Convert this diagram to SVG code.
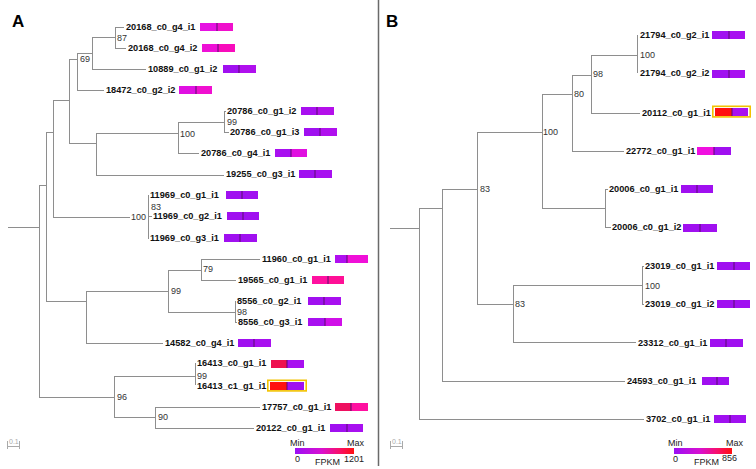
<svg xmlns="http://www.w3.org/2000/svg" width="756" height="469" viewBox="0 0 756 469">
<defs>
<linearGradient id="fpkm" x1="0" y1="0" x2="1" y2="0">
<stop offset="0" stop-color="#9a10f5"/>
<stop offset="0.45" stop-color="#d810d0"/>
<stop offset="0.75" stop-color="#f8106a"/>
<stop offset="1" stop-color="#ff1010"/>
</linearGradient>
<style>
.ln{stroke:#8e8e8e;stroke-width:1;fill:none}
.lf{font-family:"Liberation Sans",Arial,sans-serif;font-weight:bold;font-size:9.2px;fill:#111}
.bs{font-family:"Liberation Sans",Arial,sans-serif;font-size:9px;fill:#333}
.lg{font-family:"Liberation Sans",Arial,sans-serif;font-size:9px;fill:#222}
.pl{font-family:"Liberation Sans",Arial,sans-serif;font-weight:bold;font-size:17px;fill:#000}
.dv{stroke:#5a0a70;stroke-width:1}
.hl{fill:none;stroke:#f2c200;stroke-width:1.6}
.sc{stroke:#aaa;stroke-width:1;fill:none}
.st{font-family:"Liberation Sans",Arial,sans-serif;font-size:7px;fill:#aaa}
.p{fill:#a010f0}
.p2{fill:#b010ee}
</style>
</defs>
<rect width="756" height="469" fill="#fff"/>
<line x1="378.5" y1="0" x2="378.5" y2="466" stroke="#6a6a6a" stroke-width="1.5"/>
<text class="pl" x="12" y="27">A</text>
<text class="pl" x="386" y="27">B</text>

<g id="connectors">
<path class="ln" d="M8,227.5H39.5 M39.5,185V397 M39,185.5H46.5 M46.5,132V301 M46,132.5H53.5 M53.5,100V217 M53,100.5H69.5 M69.5,59V143 M69,59.5H77.5 M77.5,53V90 M77,53.5H92.5 M92.5,37V69 M92,37.5H115.5 M115.5,27V48 M115,27.5H124 M115,48.5H126 M92,69.5H146 M77,90.5H104 M69,143.5H96.5 M96.5,133V175 M96,133.5H178.5 M178.5,122V153 M178,122.5H224.5 M224.5,111V132 M224,111.5H226 M224,132.5H229 M178,153.5H199 M96,175.5H224 M53,217.5H130 M148.5,195V238 M148,195.5H149 M148,216.5H152 M148,238.5H149 M46,301.5H86.5 M86.5,291V343 M86,291.5H168.5 M168.5,270V312 M168,270.5H201.5 M201.5,259V280 M201,259.5H260 M201,280.5H236 M168,312.5H235.5 M235.5,301V322 M235,301.5H236 M235,322.5H237 M86,343.5H163 M39,397.5H114.5 M114.5,376V417 M114,376.5H195.5 M195.5,363V385 M114,417.5H155.5 M155.5,407V428 M155,407.5H260 M155,428.5H254"/>
<path class="ln" d="M390,228.5H419.5 M419.5,208V419 M419,208.5H442.5 M442.5,189V381 M419,419.5H644 M442,189.5H477.5 M477.5,132V304 M442,381.5H625 M477,132.5H542.5 M542.5,94V208 M477,304.5H513.5 M513.5,285V342 M542,94.5H572.5 M572.5,75V151 M542,208.5H605.5 M605.5,189V227 M605,189.5H608 M605,227.5H611 M572,75.5H591.5 M591.5,55V113 M572,151.5H624 M591,55.5H637.5 M637.5,35V73 M591,113.5H640 M513,285.5H642.5 M642.5,266V304 M642,266.5H644 M642,304.5H644 M513,342.5H636"/>
</g>

<g id="bootstrap-A">
<text class="bs" x="117" y="40.5">87</text>
<text class="bs" x="80" y="61.5">69</text>
<text class="bs" x="227" y="124.5">99</text>
<text class="bs" x="180" y="136.5">100</text>
<text class="bs" x="151" y="209.5">83</text>
<text class="bs" x="131" y="219.5">100</text>
<text class="bs" x="203" y="271.5">79</text>
<text class="bs" x="171" y="293.5">99</text>
<text class="bs" x="237" y="314.5">98</text>
<text class="bs" x="197" y="379">99</text>
<text class="bs" x="117" y="399.5">96</text>
<text class="bs" x="158" y="419.5">90</text>
</g>
<g id="bootstrap-B">
<text class="bs" x="640" y="57.5">100</text>
<text class="bs" x="593" y="76.5">98</text>
<text class="bs" x="574" y="96.5">80</text>
<text class="bs" x="543" y="134.5">100</text>
<text class="bs" x="480" y="191.5">83</text>
<text class="bs" x="515" y="306.5">83</text>
<text class="bs" x="645" y="288.5">100</text>
</g>

<g id="leaf-20168_c0_g4_i1"><text class="lf" x="126" y="30.4">20168_c0_g4_i1</text><rect x="200" y="23" width="17" height="8" fill="#e612e2"/><rect x="217" y="23" width="16" height="8" fill="#f010cc"/><line class="dv" x1="217" y1="23" x2="217" y2="31"/></g>
<g id="leaf-20168_c0_g4_i2"><text class="lf" x="128" y="51.4">20168_c0_g4_i2</text><rect x="202" y="44" width="16" height="8" fill="#ee10d6"/><rect x="218" y="44" width="17" height="8" fill="#f80cbc"/><line class="dv" x1="218" y1="44" x2="218" y2="52"/></g>
<g id="leaf-10889_c0_g1_i2"><text class="lf" x="148" y="72.4">10889_c0_g1_i2</text><rect x="223" y="65" width="16" height="8" class="p"/><rect x="239" y="65" width="17" height="8" class="p2"/><line class="dv" x1="239" y1="65" x2="239" y2="73"/></g>
<g id="leaf-18472_c0_g2_i2"><text class="lf" x="106" y="93.4">18472_c0_g2_i2</text><rect x="179" y="86" width="17" height="8" fill="#e010e2"/><rect x="196" y="86" width="16" height="8" fill="#f010d0"/><line class="dv" x1="196" y1="86" x2="196" y2="94"/></g>
<g id="leaf-20786_c0_g1_i2"><text class="lf" x="227" y="114.4">20786_c0_g1_i2</text><rect x="301" y="107" width="16" height="8" fill="#a810f0"/><rect x="317" y="107" width="17" height="8" fill="#b410ea"/><line class="dv" x1="317" y1="107" x2="317" y2="115"/></g>
<g id="leaf-20786_c0_g1_i3"><text class="lf" x="230" y="135.4">20786_c0_g1_i3</text><rect x="304" y="128" width="16" height="8" class="p"/><rect x="320" y="128" width="17" height="8" class="p2"/><line class="dv" x1="320" y1="128" x2="320" y2="136"/></g>
<g id="leaf-20786_c0_g4_i1"><text class="lf" x="201" y="156.4">20786_c0_g4_i1</text><rect x="275" y="149" width="16" height="8" fill="#a810f0"/><rect x="291" y="149" width="16" height="8" fill="#e010e0"/><line class="dv" x1="291" y1="149" x2="291" y2="157"/></g>
<g id="leaf-19255_c0_g3_i1"><text class="lf" x="226" y="177.4">19255_c0_g3_i1</text><rect x="299" y="170" width="16" height="8" class="p"/><rect x="315" y="170" width="17" height="8" fill="#a810f0"/><line class="dv" x1="315" y1="170" x2="315" y2="178"/></g>
<g id="leaf-11969_c0_g1_i1"><text class="lf" x="150" y="198.4">11969_c0_g1_i1</text><rect x="226" y="191" width="16" height="8" class="p"/><rect x="242" y="191" width="16" height="8" class="p"/><line class="dv" x1="242" y1="191" x2="242" y2="199"/></g>
<g id="leaf-11969_c0_g2_i1"><text class="lf" x="153" y="219.4">11969_c0_g2_i1</text><rect x="227" y="212" width="16" height="8" class="p"/><rect x="243" y="212" width="16" height="8" class="p"/><line class="dv" x1="243" y1="212" x2="243" y2="220"/></g>
<g id="leaf-11969_c0_g3_i1"><text class="lf" x="150" y="241.4">11969_c0_g3_i1</text><rect x="224" y="234" width="16" height="8" class="p"/><rect x="240" y="234" width="17" height="8" class="p"/><line class="dv" x1="240" y1="234" x2="240" y2="242"/></g>
<g id="leaf-11960_c0_g1_i1"><text class="lf" x="262" y="262.4">11960_c0_g1_i1</text><rect x="335" y="255" width="12" height="8" fill="#b010f0"/><rect x="347" y="255" width="21" height="8" fill="#f010d8"/><line class="dv" x1="347" y1="255" x2="347" y2="263"/></g>
<g id="leaf-19565_c0_g1_i1"><text class="lf" x="238" y="283.4">19565_c0_g1_i1</text><rect x="312" y="276" width="16" height="8" fill="#ff10a0"/><rect x="328" y="276" width="16" height="8" fill="#ff1096"/><line class="dv" x1="328" y1="276" x2="328" y2="284"/></g>
<g id="leaf-8556_c0_g2_i1"><text class="lf" x="237" y="304.4">8556_c0_g2_i1</text><rect x="308" y="297" width="16" height="8" class="p"/><rect x="324" y="297" width="17" height="8" fill="#a810f0"/><line class="dv" x1="324" y1="297" x2="324" y2="305"/></g>
<g id="leaf-8556_c0_g3_i1"><text class="lf" x="238" y="325.4">8556_c0_g3_i1</text><rect x="308" y="318" width="17" height="8" fill="#a810f0"/><rect x="325" y="318" width="17" height="8" fill="#d010e8"/><line class="dv" x1="325" y1="318" x2="325" y2="326"/></g>
<g id="leaf-14582_c0_g4_i1"><text class="lf" x="165" y="346.4">14582_c0_g4_i1</text><rect x="238" y="339" width="16" height="8" class="p"/><rect x="254" y="339" width="17" height="8" fill="#a810f0"/><line class="dv" x1="254" y1="339" x2="254" y2="347"/></g>
<g id="leaf-16413_c0_g1_i1"><text class="lf" x="197" y="366.4">16413_c0_g1_i1</text><rect x="271" y="360" width="16" height="8" fill="#ee1050"/><rect x="287" y="360" width="17" height="8" fill="#a810f0"/><line class="dv" x1="287" y1="360" x2="287" y2="368"/></g>
<g id="leaf-16413_c1_g1_i1"><text class="lf" x="197" y="388.6">16413_c1_g1_i1</text><rect x="270" y="382" width="17" height="8" fill="#ff1010"/><rect x="287" y="382" width="17" height="8" class="p"/><line class="dv" x1="287" y1="382" x2="287" y2="390"/><rect class="hl" x="267.8" y="380.3" width="38.4" height="10.6"/></g>
<g id="leaf-17757_c0_g1_i1"><text class="lf" x="262" y="410.4">17757_c0_g1_i1</text><rect x="335" y="403" width="16" height="8" fill="#ee1060"/><rect x="351" y="403" width="17" height="8" fill="#ff10a0"/><line class="dv" x1="351" y1="403" x2="351" y2="411"/></g>
<g id="leaf-20122_c0_g1_i1"><text class="lf" x="256" y="431.4">20122_c0_g1_i1</text><rect x="330" y="424" width="17" height="8" class="p"/><rect x="347" y="424" width="16" height="8" fill="#a810f0"/><line class="dv" x1="347" y1="424" x2="347" y2="432"/></g>

<g id="leaf-21794_c0_g2_i1"><text class="lf" x="640" y="38.4">21794_c0_g2_i1</text><rect x="712" y="31" width="17" height="8" class="p"/><rect x="729" y="31" width="16" height="8" fill="#a810f0"/><line class="dv" x1="729" y1="31" x2="729" y2="39"/></g>
<g id="leaf-21794_c0_g2_i2"><text class="lf" x="640" y="76.4">21794_c0_g2_i2</text><rect x="712" y="70" width="17" height="8" class="p"/><rect x="729" y="70" width="16" height="8" fill="#a810f0"/><line class="dv" x1="729" y1="70" x2="729" y2="78"/></g>
<g id="leaf-20112_c0_g1_i1"><text class="lf" x="642" y="116.4">20112_c0_g1_i1</text><rect x="715" y="108" width="17" height="8" fill="#ff1010"/><rect x="732" y="108" width="16" height="8" fill="#a810f0"/><line class="dv" x1="732" y1="108" x2="732" y2="116"/><rect class="hl" x="712.8" y="106.3" width="37.4" height="10.6"/></g>
<g id="leaf-22772_c0_g1_i1"><text class="lf" x="626" y="154.4">22772_c0_g1_i1</text><rect x="697" y="147" width="17" height="8" fill="#f010e0"/><rect x="714" y="147" width="17" height="8" class="p"/><line class="dv" x1="714" y1="147" x2="714" y2="155"/></g>
<g id="leaf-20006_c0_g1_i1"><text class="lf" x="609" y="192.4">20006_c0_g1_i1</text><rect x="681" y="185" width="16" height="8" class="p"/><rect x="697" y="185" width="16" height="8" class="p"/><line class="dv" x1="697" y1="185" x2="697" y2="193"/></g>
<g id="leaf-20006_c0_g1_i2"><text class="lf" x="612" y="230.4">20006_c0_g1_i2</text><rect x="683" y="224" width="17" height="8" class="p"/><rect x="700" y="224" width="17" height="8" class="p"/><line class="dv" x1="700" y1="224" x2="700" y2="232"/></g>
<g id="leaf-23019_c0_g1_i1"><text class="lf" x="645" y="269.4">23019_c0_g1_i1</text><rect x="717" y="262" width="17" height="8" class="p"/><rect x="734" y="262" width="16" height="8" class="p"/><line class="dv" x1="734" y1="262" x2="734" y2="270"/></g>
<g id="leaf-23019_c0_g1_i2"><text class="lf" x="645" y="307.4">23019_c0_g1_i2</text><rect x="717" y="300" width="17" height="8" class="p"/><rect x="734" y="300" width="16" height="8" class="p"/><line class="dv" x1="734" y1="300" x2="734" y2="308"/></g>
<g id="leaf-23312_c0_g1_i1"><text class="lf" x="638" y="346.4">23312_c0_g1_i1</text><rect x="710" y="339" width="16" height="8" class="p"/><rect x="726" y="339" width="17" height="8" class="p"/><line class="dv" x1="726" y1="339" x2="726" y2="347"/></g>
<g id="leaf-24593_c0_g1_i1"><text class="lf" x="627" y="384.4">24593_c0_g1_i1</text><rect x="702" y="377" width="15" height="8" class="p"/><rect x="717" y="377" width="12" height="8" class="p"/><line class="dv" x1="717" y1="377" x2="717" y2="385"/></g>
<g id="leaf-3702_c0_g1_i1"><text class="lf" x="646" y="422.4">3702_c0_g1_i1</text><rect x="714" y="415" width="16" height="8" class="p"/><rect x="730" y="415" width="16" height="8" class="p"/><line class="dv" x1="730" y1="415" x2="730" y2="423"/></g>

<g id="scale-A"><path class="sc" d="M7.5,441V449 M7.5,446.5H19.5 M19.5,441V449"/><text class="st" x="9" y="444">0.1</text></g>
<g id="scale-B"><path class="sc" d="M390.5,441V449 M390.5,446.5H402.5 M402.5,441V449"/><text class="st" x="392" y="444">0.1</text></g>

<g id="legend-A"><text class="lg" x="290" y="446">Min</text><text class="lg" x="347" y="446">Max</text><rect x="295" y="448" width="59" height="6" fill="url(#fpkm)"/><text class="lg" x="295" y="462">0</text><text class="lg" x="315" y="465">FPKM</text><text class="lg" x="344" y="462">1201</text></g>
<g id="legend-B"><text class="lg" x="668" y="446">Min</text><text class="lg" x="726" y="446">Max</text><rect x="674" y="448" width="58" height="6" fill="url(#fpkm)"/><text class="lg" x="673" y="462">0</text><text class="lg" x="694" y="465">FPKM</text><text class="lg" x="722" y="461">856</text></g>
</svg>
